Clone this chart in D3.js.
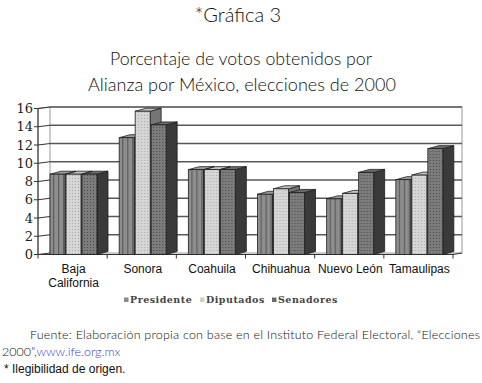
<!DOCTYPE html>
<html>
<head>
<meta charset="utf-8">
<script src="https://cdn.jsdelivr.net/npm/d3@7"></script>
<style>
  html, body { margin: 0; padding: 0; background: #fff; }
  svg { display: block; }
</style>
</head>
<body>
<div id="chart"></div>
<script>
// datos
const estados = ["Baja California", "Sonora", "Coahuila", "Chihuahua", "Nuevo León", "Tamaulipas"];
const series = ["Presidente", "Diputados", "Senadores"];
const presidente = [8.8, 12.8, 9.3, 6.6, 6.1, 8.2];
const diputados  = [8.8, 15.7, 9.3, 7.2, 6.7, 8.7];
const senadores  = [8.8, 14.2, 9.3, 6.8, 9.0, 11.6];
const yTicks = [0, 2, 4, 6, 8, 10, 12, 14, 16];

const valores = [presidente, diputados, senadores];

const W = 482, H = 383;
const svg = d3.select("#chart").append("svg")
    .attr("width", W).attr("height", H);

const defs = svg.append("defs");

// tramas de las barras
const pRayas = defs.append("pattern").attr("id", "p-pres")
    .attr("patternUnits", "userSpaceOnUse").attr("width", 5).attr("height", 4);
pRayas.append("rect").attr("width", 5).attr("height", 4).attr("fill", "#8e8e8e");
pRayas.append("rect").attr("x", 3).attr("width", 1.2).attr("height", 4).attr("fill", "#5c5c5c");

const pDip = defs.append("pattern").attr("id", "p-dip")
    .attr("patternUnits", "userSpaceOnUse").attr("width", 3).attr("height", 3);
pDip.append("rect").attr("width", 3).attr("height", 3).attr("fill", "#d6d6d6");
pDip.append("rect").attr("x", 1).attr("y", 1).attr("width", 1).attr("height", 1).attr("fill", "#a8a8a8");

const pSen = defs.append("pattern").attr("id", "p-sen")
    .attr("patternUnits", "userSpaceOnUse").attr("width", 3).attr("height", 3);
pSen.append("rect").attr("width", 3).attr("height", 3).attr("fill", "#7c7c7c");
pSen.append("rect").attr("x", 1).attr("y", 1).attr("width", 1).attr("height", 1).attr("fill", "#4a4a4a");

const estilos = [
    {front: "url(#p-pres)", side: "#6a6a6a", top: "#9c9c9c", legend: "#8a8a8a"},
    {front: "url(#p-dip)",  side: "#757575", top: "#c4c4c4", legend: "#cfcfcf"},
    {front: "url(#p-sen)",  side: "#3a3a3a", top: "#6c6c6c", legend: "#6a6a6a"}
];

// ejes
const x = d3.scaleBand().domain(estados).range([38, 453]);
const y = d3.scaleLinear().domain([0, 16]).range([254.5, 108.5]);
const prof = {dx: 12, dy: -1.5};      // profundidad del fondo
const barra = {w: 15, paso: 16, dx: 11, dy: -3};

// pared del fondo
const x0b = 38 + prof.dx, x1b = 462;
svg.append("rect")
    .attr("x", x0b).attr("y", y(16) + prof.dy)
    .attr("width", x1b - x0b).attr("height", y(0) - y(16))
    .attr("fill", "#fff").attr("stroke", "#9a9a9a").attr("stroke-width", 1);

svg.append("g").selectAll("line.grid")
    .data(yTicks.filter(d => d > 0))
    .join("line")
    .attr("x1", x0b).attr("x2", x1b)
    .attr("y1", d => y(d) + prof.dy).attr("y2", d => y(d) + prof.dy)
    .attr("stroke", "#585858").attr("stroke-width", 1.4);

// pared lateral y eje vertical
svg.append("line")
    .attr("x1", 38).attr("x2", 38).attr("y1", y(0)).attr("y2", y(16))
    .attr("stroke", "#222").attr("stroke-width", 1.2);
svg.append("line")
    .attr("x1", 38).attr("x2", x0b).attr("y1", y(16)).attr("y2", y(16) + prof.dy)
    .attr("stroke", "#777");

const ticks = svg.append("g");
ticks.selectAll("path")
    .data(yTicks)
    .join("path")
    .attr("d", d => `M34,${y(d)}L38,${y(d)}L${x0b},${y(d) + prof.dy}`)
    .attr("fill", "none").attr("stroke", "#333").attr("stroke-width", 1);
ticks.selectAll("text")
    .data(yTicks)
    .join("text")
    .attr("x", 33).attr("y", d => y(d))
    .attr("dy", "0.36em")
    .attr("text-anchor", "end")
    .attr("font-family", "DejaVu Serif")
    .attr("font-size", 13)
    .attr("fill", "#222")
    .text(d => d);

// piso
svg.append("path")
    .attr("d", `M38,${y(0)}L453,${y(0)}L${x1b},${y(0) + prof.dy}`)
    .attr("fill", "none").attr("stroke", "#333").attr("stroke-width", 1.2);
svg.append("g").selectAll("line")
    .data(estados.map(e => x(e)).concat([x.range()[1]]))
    .join("line")
    .attr("x1", d => d).attr("x2", d => d)
    .attr("y1", y(0)).attr("y2", y(0) + 4)
    .attr("stroke", "#333");

// barras 3D
const grupos = svg.append("g").selectAll("g")
    .data(estados)
    .join("g")
    .attr("transform", d => `translate(${x(d) + prof.dx},0)`);

grupos.each(function(estado, i) {
    const g = d3.select(this);
    series.forEach((s, k) => {
        const v = valores[k][i];
        const bx = k * barra.paso;
        const yt = y(v), yb = y(0);
        const st = estilos[k];
        // cara lateral
        g.append("path")
            .attr("d", `M${bx + barra.w},${yb}L${bx + barra.w},${yt}L${bx + barra.w + barra.dx},${yt + barra.dy}L${bx + barra.w + barra.dx},${yb + barra.dy}Z`)
            .attr("fill", st.side).attr("stroke", "#1e1e1e").attr("stroke-width", 0.8);
        // tapa
        g.append("path")
            .attr("d", `M${bx},${yt}L${bx + barra.w},${yt}L${bx + barra.w + barra.dx},${yt + barra.dy}L${bx + barra.dx},${yt + barra.dy}Z`)
            .attr("fill", st.top).attr("stroke", "#1e1e1e").attr("stroke-width", 0.8);
        // frente
        g.append("rect")
            .attr("x", bx).attr("y", yt)
            .attr("width", barra.w).attr("height", yb - yt)
            .attr("fill", st.front).attr("stroke", "#1e1e1e").attr("stroke-width", 0.8);
    });
});

// etiquetas de categorías (Baja California en dos líneas)
const etiquetas = svg.append("g")
    .attr("font-family", "Liberation Sans, Arial, sans-serif")
    .attr("font-size", 12)
    .attr("fill", "#111");
estados.forEach(e => {
    const cx = x(e) + x.bandwidth() / 2 + 1;
    const partes = e === "Baja California" ? ["Baja", "California"] : [e];
    partes.forEach((p, j) => {
        etiquetas.append("text")
            .attr("x", cx)
            .attr("y", 273 + j * 14)
            .attr("text-anchor", "middle")
            .text(p);
    });
});

// leyenda
const leyX = [124, 200, 272];
const ley = svg.append("g");
series.forEach((s, k) => {
    ley.append("rect")
        .attr("x", leyX[k]).attr("y", 297.5)
        .attr("width", 4.5).attr("height", 4.5)
        .attr("fill", estilos[k].legend);
    ley.append("text")
        .attr("x", leyX[k] + 6).attr("y", 300)
        .attr("dy", "0.35em")
        .attr("font-family", "DejaVu Serif")
        .attr("font-weight", "bold")
        .attr("font-size", 9.5)
        .attr("letter-spacing", 0.5)
        .attr("fill", "#444")
        .text(s);
});

// títulos
const fuenteTitulo = "Lato, 'Open Sans', sans-serif";
svg.append("text")
    .attr("x", 238).attr("y", 21.5)
    .attr("text-anchor", "middle")
    .attr("font-family", fuenteTitulo).attr("font-weight", 300)
    .attr("font-size", 20).attr("fill", "#111")
    .text("*Gráfica 3");
svg.append("text")
    .attr("x", 241).attr("y", 65)
    .attr("text-anchor", "middle")
    .attr("font-family", fuenteTitulo).attr("font-weight", 300)
    .attr("font-size", 17.5).attr("fill", "#111")
    .attr("textLength", 262).attr("lengthAdjust", "spacingAndGlyphs")
    .text("Porcentaje de votos obtenidos por");
svg.append("text")
    .attr("x", 242).attr("y", 90.5)
    .attr("text-anchor", "middle")
    .attr("font-family", fuenteTitulo).attr("font-weight", 300)
    .attr("font-size", 17.5).attr("fill", "#111")
    .attr("textLength", 308).attr("lengthAdjust", "spacingAndGlyphs")
    .text("Alianza por México, elecciones de 2000");

// fuente
svg.append("text")
    .attr("x", 30).attr("y", 339)
    .attr("font-family", fuenteTitulo).attr("font-weight", 300)
    .attr("font-size", 12.5).attr("fill", "#111")
    .attr("textLength", 450).attr("lengthAdjust", "spacing")
    .text("Fuente: Elaboración propia con base en el Instituto Federal Electoral, \u201cElecciones");
const linea2 = svg.append("text")
    .attr("x", 2).attr("y", 355.5)
    .attr("font-family", fuenteTitulo).attr("font-weight", 300)
    .attr("font-size", 12.5).attr("fill", "#111");
linea2.append("tspan").text("2000\u201d,");
linea2.append("tspan").attr("fill", "#3b3bd0").text("www.ife.org.mx");
svg.append("text")
    .attr("x", 4).attr("y", 373)
    .attr("font-family", "Liberation Sans, Arial, sans-serif")
    .attr("font-size", 12).attr("fill", "#111")
    .text("* Ilegibilidad de origen.");
</script>
</body>
</html>
